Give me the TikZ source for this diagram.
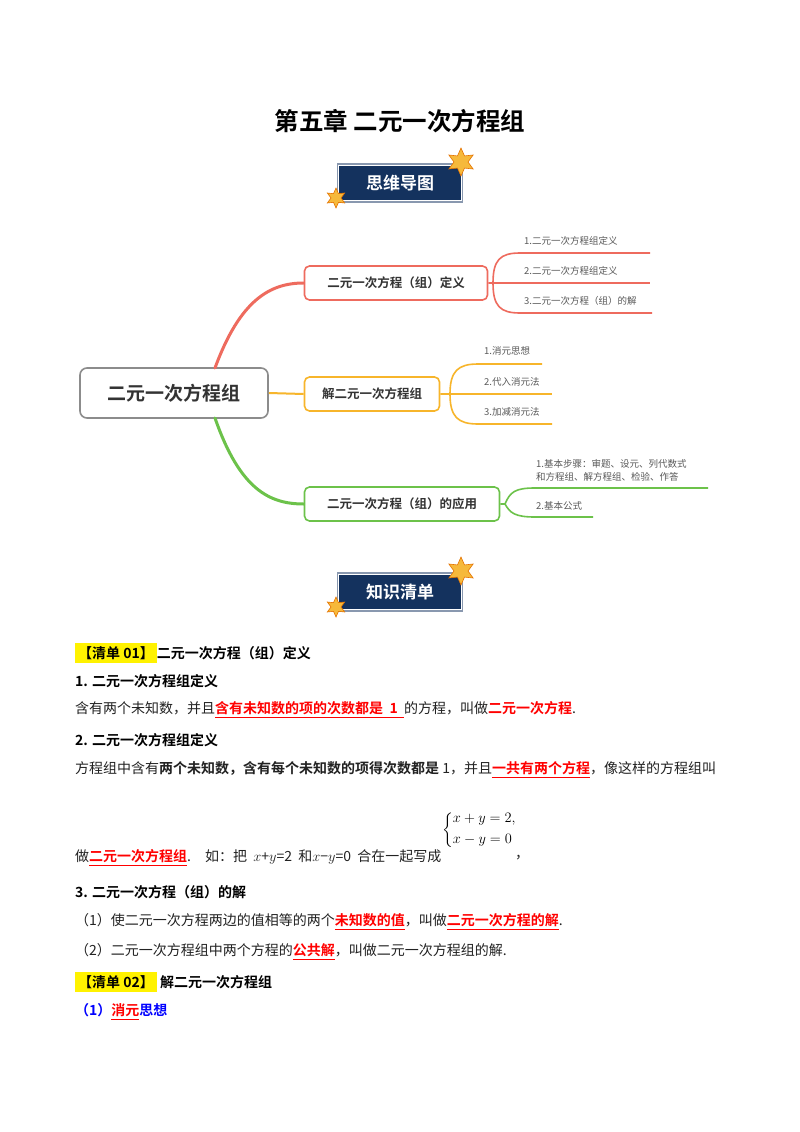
\documentclass[tikz,border=0pt]{standalone}
\usepackage{amsmath}
\usepackage{fontspec}
\setmainfont{Liberation Serif}
\newfontfamily\cjk{Noto Sans CJK SC}
\newfontfamily\cjkb{Noto Sans CJK SC Bold}
\usetikzlibrary{shapes.geometric}
\definecolor{navy}{HTML}{14325E}
\definecolor{mred}{HTML}{EE6B5E}
\definecolor{morange}{HTML}{F7B52B}
\definecolor{mgreen}{HTML}{6CC24A}
\definecolor{txt}{HTML}{222222}
\definecolor{stary}{HTML}{F6B93B}
\tikzset{
  mbox/.style={draw=#1,line width=1.6pt,rounded corners=5pt,fill=white,inner xsep=6pt,font=\cjkb\fontsize{12.5}{15}\selectfont,text=black!80},
  leaf/.style={font=\cjk\fontsize{9.5}{13}\selectfont,text=black!65,anchor=west,inner sep=1pt},
  body/.style={anchor=west,inner sep=0pt,font=\cjk\fontsize{14}{17}\selectfont,text=txt},
  bhead/.style={anchor=west,inner sep=0pt,font=\cjkb\fontsize{14}{17}\selectfont,text=black},
  starb/.style={star,star points=6,star point ratio=2.0,fill=stary,draw=orange!90!black,line width=0.6pt,minimum size=#1,inner sep=0pt},
  banner/.style={fill=navy,draw=white,double=navy!50,double distance=1.5pt,line width=1pt,minimum width=125pt,minimum height=38pt,text=white,font=\cjkb\fontsize{17}{20}\selectfont}
}
\newcommand{\rb}[1]{\textcolor{red}{\cjkb\underline{#1}}}
\begin{document}
\begin{tikzpicture}[x=1pt,y=-1pt]
\useasboundingbox[fill=white] (0,0) rectangle (800,1132);
\node[font=\cjkb\fontsize{24.5}{28}\selectfont] (title) at (400,121) {第五章\ 二元一次方程组};
% banner 1
\node[banner] (b1) at (400,183) {思维导图};
\node[starb=28pt] (s1) at (461,162) {};
\node[starb=20pt] (s2) at (336,198) {};
% mind map
\node[draw=black!45,line width=1.6pt,rounded corners=7pt,minimum width=188pt,minimum height=50pt,font=\cjkb\fontsize{19}{22}\selectfont,text=black!80] (c) at (174,393) {二元一次方程组};
\node[mbox=mred,minimum width=183pt,minimum height=34pt] (n1) at (396,283) {二元一次方程（组）定义};
\node[mbox=morange,minimum width=135pt,minimum height=34pt] (n2) at (372,394) {解二元一次方程组};
\node[mbox=mgreen,minimum width=195pt,minimum height=34pt] (n3) at (402,504) {二元一次方程（组）的应用};
\draw[mred,line width=3pt,line cap=round] (215,368) .. controls (240,300) and (270,283) .. (n1.west);
\draw[morange,line width=2pt] (c.east) -- (n2.west);
\draw[mgreen,line width=3pt,line cap=round] (215,418) .. controls (240,490) and (270,504) .. (n3.west);
% sub red
\coordinate (r1) at (650,253); \coordinate (r2) at (650,283); \coordinate (r3) at (652,313);
\draw[mred,line width=1.6pt] (n1.east) -- (493,283) .. controls (493,260) and (500,253) .. (520,253) -- (r1);
\draw[mred,line width=1.6pt] (493,283) -- (r2);
\draw[mred,line width=1.6pt] (493,283) .. controls (493,306) and (500,313) .. (520,313) -- (r3);
\node[leaf] (l1) at (523,241) {1.二元一次方程组定义};
\node[leaf] (l2) at (523,271) {2.二元一次方程组定义};
\node[leaf] (l3) at (523,301) {3.二元一次方程（组）的解};
% sub orange
\coordinate (o1) at (542,364); \coordinate (o2) at (552,394); \coordinate (o3) at (552,424);
\draw[morange,line width=1.6pt] (n2.east) -- (450,394) .. controls (450,371) and (458,364) .. (478,364) -- (o1);
\draw[morange,line width=1.6pt] (450,394) -- (o2);
\draw[morange,line width=1.6pt] (450,394) .. controls (450,417) and (458,424) .. (478,424) -- (o3);
\node[leaf] (l4) at (483,351) {1.消元思想};
\node[leaf] (l5) at (483,382) {2.代入消元法};
\node[leaf] (l6) at (483,412) {3.加减消元法};
% sub green
\coordinate (g1) at (708,488); \coordinate (g2) at (593,517);
\draw[mgreen,line width=1.6pt] (n3.east) -- (505,504) .. controls (510,492) and (515,488) .. (535,488) -- (g1);
\draw[mgreen,line width=1.6pt] (505,504) .. controls (510,513) and (515,517) .. (535,517) -- (g2);
\node[leaf,align=left] (l7) at (535,470) {1.基本步骤：审题、设元、列代数式\\和方程组、解方程组、检验、作答};
\node[leaf] (l8) at (535,506) {2.基本公式};
% banner 2
\node[banner] (b2) at (400,592) {知识清单};
\node[starb=28pt] (s3) at (461,571) {};
\node[starb=20pt] (s4) at (336,607) {};
% text
\node[bhead] (t1) at (75,653) {\colorbox{yellow}{【清单 01】}二元一次方程（组）定义};
\node[bhead] (t2) at (75,681) {1. 二元一次方程组定义};
\node[body] (t3) at (75,710) {含有两个未知数，并且\rb{含有未知数的项的次数都是\ \ 1\ \ }的方程，叫做\textcolor{red}{\cjkb 二元一次方程}.};
\node[bhead] (t4) at (75,740) {2. 二元一次方程组定义};
\node[body] (t5) at (75,770) {方程组中含有{\cjkb 两个未知数，含有每个未知数的项得次数都是}\ 1，并且\rb{一共有两个方程}，像这样的方程组叫};
\node[inner sep=0pt,font=\fontsize{14}{17}\selectfont] (sys) at (482,830) {$\left\{\begin{array}{@{}l}x+y=2,\\[4pt] x-y=0\end{array}\right.$};
\node[body] (t6) at (75,858) {做\rb{二元一次方程组}.\quad 如：把\ \ $x$+$y$=2\ \ 和$x$−$y$=0\ \ 合在一起写成};
\node[body] (comma) at (515,858) {，};
\node[bhead] (t7) at (75,892) {3. 二元一次方程（组）的解};
\node[body] (t8) at (75,922) {（1）使二元一次方程两边的值相等的两个\rb{未知数的值}，叫做\rb{二元一次方程的解}.};
\node[body] (t9) at (75,952) {（2）二元一次方程组中两个方程的\rb{公共解}，叫做二元一次方程组的解.};
\node[bhead] (t10) at (75,982) {\colorbox{yellow}{【清单 02】}\ 解二元一次方程组};
\node[bhead,text=blue] (t11) at (75,1012) {（1）\rb{消元}思想};
\end{tikzpicture}
\end{document}
